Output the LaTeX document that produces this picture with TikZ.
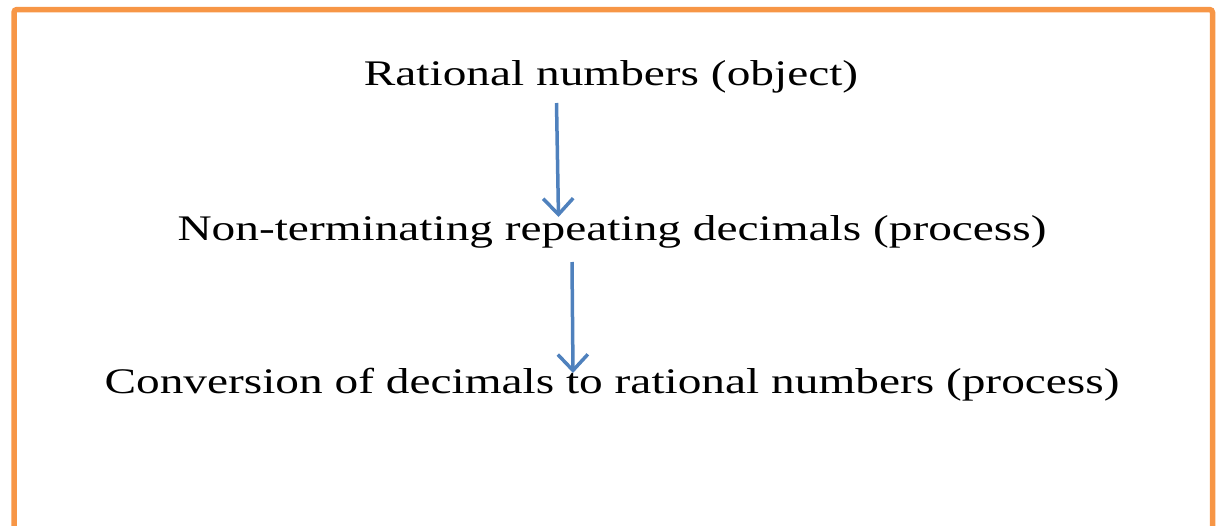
\documentclass[tikz,border=0pt]{standalone}
\usepackage{fontspec}
\setmainfont{Liberation Serif}
\usetikzlibrary{arrows.meta}
\definecolor{frameorange}{HTML}{F79646}
\definecolor{arrowblue}{HTML}{4F81BD}
\newcommand{\widetext}[1]{\scalebox{1.315}[1]{#1}}
\begin{document}
\begin{tikzpicture}[x=1pt,y=-1pt,
  label/.style={anchor=base,inner sep=0pt,font=\fontsize{36}{40}\selectfont},
  flow/.style={arrowblue,line width=3.5pt,-{Straight Barb[length=16pt,width=30pt,line width=3.5pt]}}]
\useasboundingbox (0,0) rectangle (1216,525);
\begin{scope}
\clip (0,0) rectangle (1216,525);
\draw[frameorange,line width=5.5pt,rounded corners=3pt] (14,9.5) rectangle (1212.5,531);
\end{scope}
\node[label] (t1) at (611,85) {\widetext{Rational numbers (object)}};
\node[label] (t2) at (612,240) {\widetext{Non-terminating repeating decimals (process)}};
\node[label] (t3) at (612,393) {\widetext{Conversion of decimals to rational numbers (process)}};
\coordinate (a1s) at (556.5,103);
\coordinate (a1e) at (558.5,217);
\coordinate (a2s) at (572,262);
\coordinate (a2e) at (573,373);
\draw[flow] (a1s) -- (a1e);
\draw[flow] (a2s) -- (a2e);
\end{tikzpicture}
\end{document}
